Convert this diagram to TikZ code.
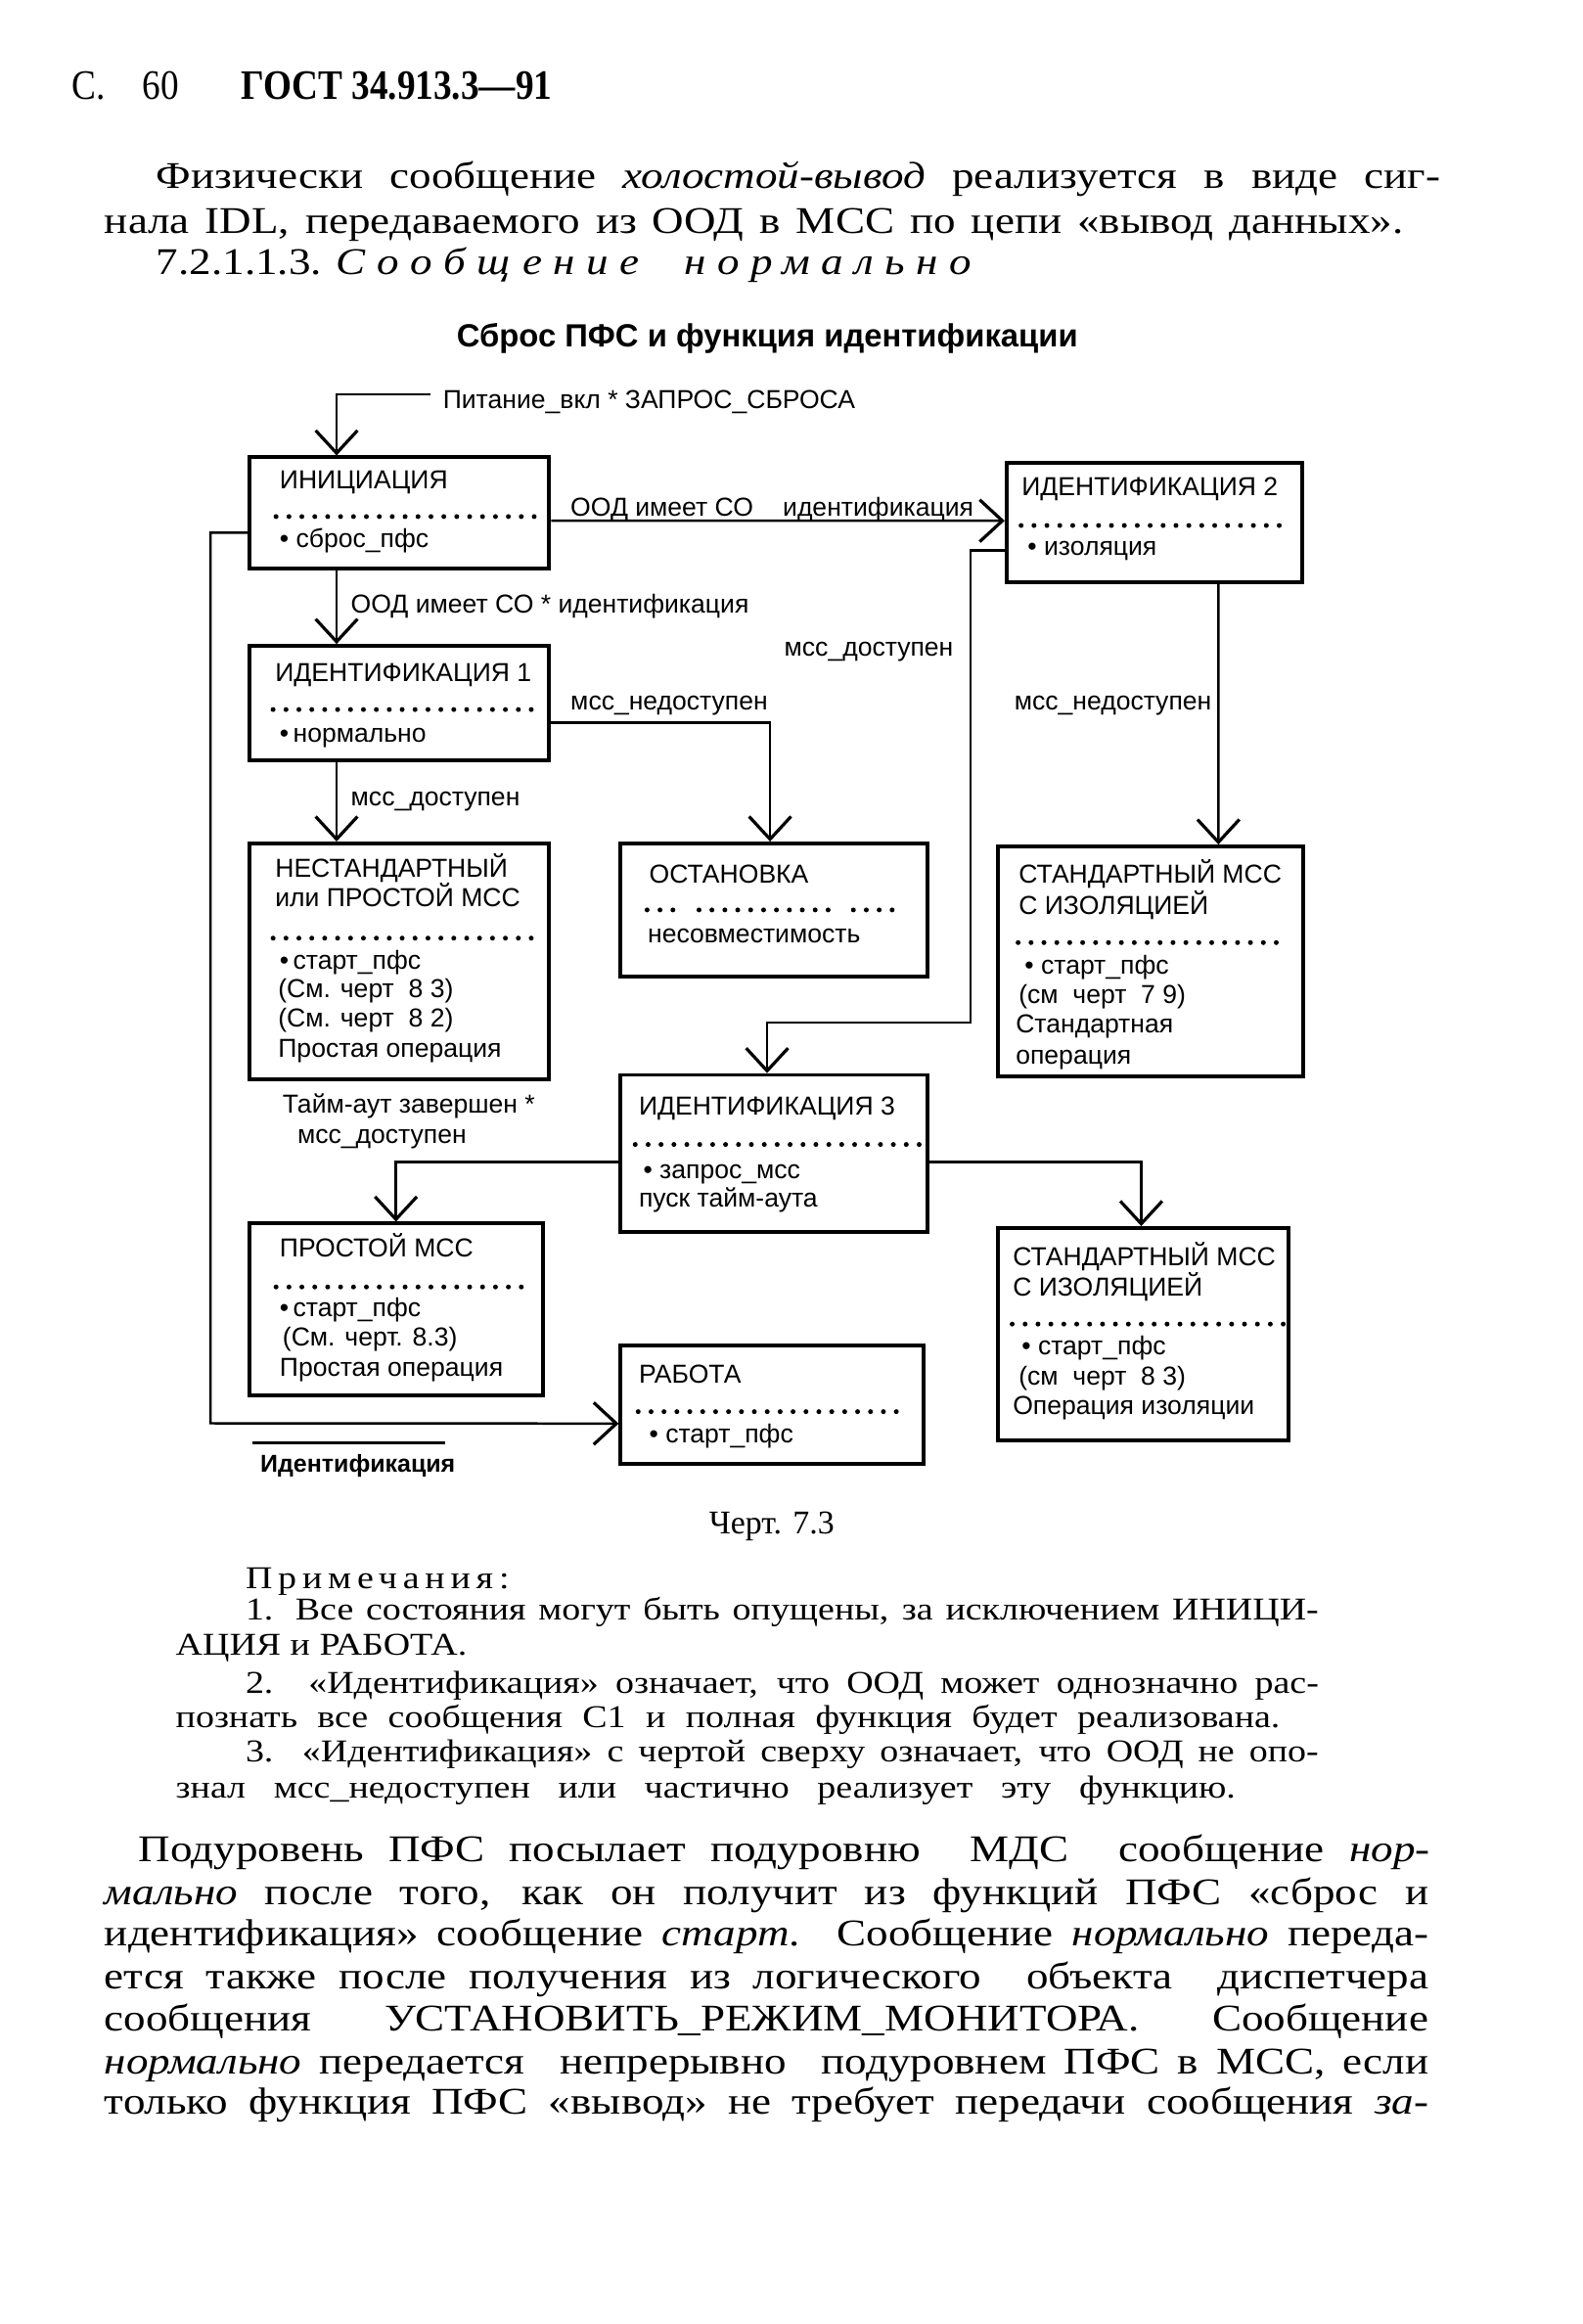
\documentclass[tikz,border=0pt]{standalone}
\usepackage{fontspec}
\setmainfont{Liberation Serif}[FakeStretch=1.17]
\setsansfont{Liberation Sans}
\newfontfamily\headfont{Liberation Serif}[FakeStretch=0.87]
\newfontfamily\plainserif{Liberation Serif}
\usetikzlibrary{arrows.meta,calc,fit}

% one justified line of the page text, width in picture units
\newcommand{\jline}[2]{\makebox[\dimexpr0.4255pt*#1\relax][s]{#2}}

\tikzset{
  statebox/.style={draw,line width=1.1pt,inner sep=0pt},
  boxtext/.style={font=\sffamily\fontsize{7.45}{8.5}\selectfont,anchor=base west,inner sep=0pt},
  conn/.style={line width=0.7pt},
  arr/.style={conn,-{Straight Barb[length=6.5pt,width=12pt,line width=0.9pt]}},
  dotrow/.style={line width=1.4pt,line cap=round,dash pattern=on 0pt off 3.7pt},
  bodyline/.style={font=\fontsize{10.8}{12}\selectfont,anchor=base west,inner sep=0pt},
  noteline/.style={font=\fontsize{9.1}{10}\selectfont,anchor=base west,inner sep=0pt},
}

\begin{document}
\begin{tikzpicture}[x=0.42pt,y=-0.42pt]
        \path[fill=white] (0,0) rectangle (1080,1586);
        \useasboundingbox (0,0) rectangle (1080,1586);
        \begin{scope}[scale=1.013]
        %% page head and text above the chart
        \node[anchor=base west,inner sep=0pt,font=\headfont\fontsize{12}{13}\selectfont] (page) at (48,67) {\jline{72}{С. 60}};
        \node[anchor=base west,inner sep=0pt,font=\headfont\bfseries\fontsize{12}{13}\selectfont] (gost) at (162,67) {ГОСТ 34.913.3—91};
        \node[bodyline] (p1a) at (105,127) {\jline{865}{Физически сообщение \textit{холостой-вывод} реализуется в виде сиг-}};
        \node[bodyline] (p1b) at (70,157) {\jline{875}{нала IDL, передаваемого из ООД в МСС по цепи «вывод данных».}};
        \node[bodyline] (sect) at (105,185) {7.2.1.1.3. {\itshape\addfontfeature{LetterSpace=30}Сообщение\ \ нормально}};
        \node[inner sep=0pt,font=\sffamily\bfseries\fontsize{9.2}{10}\selectfont] (title) at (517,228) {Сброс ПФС и функция идентификации};
        %% state boxes
        \node[statebox,fit={(168,308) (370,383)}] (init) {};
        \node[statebox,fit={(168,435) (370,512)}] (ident1) {};
        \node[statebox,fit={(168,568) (370,727)}] (nonstd) {};
        \node[statebox,fit={(418,568) (625,658)}] (halt) {};
        \node[statebox,fit={(678,312) (877,392)}] (ident2) {};
        \node[statebox,fit={(672,570) (878,725)}] (stdA) {};
        \node[statebox,fit={(418,724) (625,830)}] (ident3) {};
        \node[statebox,fit={(168,824) (366,940)}] (simple) {};
        \node[statebox,fit={(672,827) (868,970)}] (stdB) {};
        \node[statebox,fit={(418,906) (622,986)}] (work) {};
        %% dotted rules inside the boxes
        \draw[dotrow] (186,348) -- (362,348);
        \draw[dotrow] (184,478) -- (360,478);
        \draw[dotrow] (184,632) -- (362,632);
        \draw[dotrow] (436,613) -- (462,613);
        \draw[dotrow] (471,613) -- (565,613);
        \draw[dotrow] (575,613) -- (606,613);
        \draw[dotrow] (688,354) -- (862,354);
        \draw[dotrow] (686,635) -- (860,635);
        \draw[dotrow] (428,771) -- (620,771);
        \draw[dotrow] (186,867) -- (352,867);
        \draw[dotrow] (682,892) -- (866,892);
        \draw[dotrow] (430,951) -- (606,951);
        %% box texts
        \node[boxtext] (initT) at (188,329) {ИНИЦИАЦИЯ};
        \node[boxtext] (initV) at (188,369) {\textbullet\ сброс\_пфс};
        \node[boxtext] (ident1T) at (185,459) {ИДЕНТИФИКАЦИЯ 1};
        \node[boxtext] (ident1V) at (188,500) {\textbullet\,нормально};
        \node[boxtext] (nonstdT) at (185,591) {НЕСТАНДАРТНЫЙ};
        \node[boxtext] (nonstdU) at (185,611) {или ПРОСТОЙ МСС};
        \node[boxtext] (nonstdV) at (188,653) {\textbullet\,старт\_пфс};
        \node[boxtext] (nonstdW) at (187,672) {(См. черт\ \ 8 3)};
        \node[boxtext] (nonstdX) at (187,692) {(См. черт\ \ 8 2)};
        \node[boxtext] (nonstdY) at (187,712) {Простая операция};
        \node[boxtext] (haltT) at (437,595) {ОСТАНОВКА};
        \node[boxtext] (haltV) at (436,635) {несовместимость};
        \node[boxtext] (ident2T) at (688,334) {ИДЕНТИФИКАЦИЯ 2};
        \node[boxtext] (ident2V) at (692,374) {\textbullet\ изоляция};
        \node[boxtext] (stdAT) at (686,595) {СТАНДАРТНЫЙ МСС};
        \node[boxtext] (stdAU) at (686,616) {С ИЗОЛЯЦИЕЙ};
        \node[boxtext] (stdAV) at (690,656) {\textbullet\ старт\_пфс};
        \node[boxtext] (stdAW) at (686,676) {(см\ \ черт\ \ 7 9)};
        \node[boxtext] (stdAX) at (684,696) {Стандартная};
        \node[boxtext] (stdAY) at (684,717) {операция};
        \node[boxtext] (ident3T) at (430,751) {ИДЕНТИФИКАЦИЯ 3};
        \node[boxtext] (ident3V) at (433,794) {\textbullet\ запрос\_мсс};
        \node[boxtext] (ident3W) at (430,813) {пуск тайм-аута};
        \node[boxtext] (simpleT) at (188,847) {ПРОСТОЙ МСС};
        \node[boxtext] (simpleV) at (188,887) {\textbullet\,старт\_пфс};
        \node[boxtext] (simpleW) at (190,907) {(См. черт. 8.3)};
        \node[boxtext] (simpleX) at (188,927) {Простая операция};
        \node[boxtext] (stdBT) at (682,853) {СТАНДАРТНЫЙ МСС};
        \node[boxtext] (stdBU) at (682,873) {С ИЗОЛЯЦИЕЙ};
        \node[boxtext] (stdBV) at (688,913) {\textbullet\ старт\_пфс};
        \node[boxtext] (stdBW) at (686,933) {(см\ \ черт\ \ 8 3)};
        \node[boxtext] (stdBX) at (682,953) {Операция изоляции};
        \node[boxtext] (workT) at (430,932) {РАБОТА};
        \node[boxtext] (workV) at (437,972) {\textbullet\ старт\_пфс};
        %% transition labels
        \node[boxtext] (power) at (298,275) {Питание\_вкл * ЗАПРОС\_СБРОСА};
        \node[boxtext] (lblA) at (384,348) {ООД имеет СО};
        \node[boxtext] (lblB) at (527,348) {идентификация};
        \node[boxtext] (lblC) at (236,413) {ООД имеет СО * идентификация};
        \node[boxtext] (lblD) at (384,478) {мсс\_недоступен};
        \node[boxtext] (lblE) at (236,543) {мсс\_доступен};
        \node[boxtext] (lblF) at (528,442) {мсс\_доступен};
        \node[boxtext] (lblG) at (683,478) {мсс\_недоступен};
        \node[boxtext] (lblH) at (190,750) {Тайм-аут завершен *};
        \node[boxtext] (lblI) at (200,770) {мсс\_доступен};
        \node[boxtext,font=\sffamily\bfseries\fontsize{7}{8}\selectfont] (notid) at (175,992) {Идентификация};
        \draw[conn,line width=0.9pt] (170,972) -- (300,972);
        %% transitions
        \draw[arr] ($(power.west)+(-8,-5)$) -| ($(init.north west)+(60,0)$);
        \draw[arr] ($(init.north east)+(0,44)$) -- ($(ident2.north west)+(0,40)$);
        \draw[arr] ($(init.south west)+(60,0)$) -- ($(ident1.north west)+(60,0)$);
        \draw[arr] ($(ident1.north east)+(0,53)$) -| ($(halt.north west)+(102,0)$);
        \draw[arr] ($(ident1.south west)+(60,0)$) -- ($(nonstd.north west)+(60,0)$);
        \draw[arr] ($(ident2.south west)+(144,0)$) -- ($(stdA.north west)+(150,0)$);
        \draw[arr] ($(ident2.north west)+(0,60)$) -| ++(-23,318) -| ($(ident3.north west)+(100,0)$);
        \draw[arr] ($(ident3.north west)+(0,60)$) -| ($(simple.north west)+(100,0)$);
        \draw[arr] ($(ident3.north east)+(0,60)$) -| ($(stdB.north west)+(98,0)$);
        \draw[arr] ($(init.north west)+(0,52)$) -| ++(-25,600) -- ($(work.north west)+(0,54)$);
        %% caption and notes
        \node[inner sep=0pt,font=\plainserif\fontsize{9.5}{11}\selectfont] (caption) at (520,1028) {Черт. 7.3};
        \node[noteline] (nhead) at (165,1070) {\addfontfeature{LetterSpace=18}Примечания:};
        \node[noteline] (n1a) at (165,1091) {\jline{723}{1. Все состояния могут быть опущены, за исключением ИНИЦИ-}};
        \node[noteline] (n1b) at (118,1115) {АЦИЯ и РАБОТА.};
        \node[noteline] (n2a) at (165,1141) {\jline{723}{2. «Идентификация» означает, что ООД может однозначно рас-}};
        \node[noteline] (n2b) at (118,1164) {\jline{744}{познать все сообщения С1 и полная функция будет реализована.}};
        \node[noteline] (n3a) at (165,1187) {\jline{723}{3. «Идентификация» с чертой сверху означает, что ООД не опо-}};
        \node[noteline] (n3b) at (118,1211) {\jline{714}{знал мсс\_недоступен или частично реализует эту функцию.}};
        %% text below the chart
        \node[bodyline] (b1) at (93,1254) {\jline{870}{Подуровень ПФС посылает подуровню\ \ МДС\ \ сообщение \textit{нор-}}};
        \node[bodyline] (b2) at (70,1283) {\jline{892}{\textit{мально} после того, как он получит из функций ПФС «сброс и}};
        \node[bodyline] (b3) at (70,1311) {\jline{892}{идентификация» сообщение \textit{старт}.\ \ Сообщение \textit{нормально} переда-}};
        \node[bodyline] (b4) at (70,1340) {\jline{892}{ется также после получения из логического\ \ объекта\ \ диспетчера}};
        \node[bodyline] (b5) at (70,1368) {\jline{892}{сообщения\ \ \ УСТАНОВИТЬ\_РЕЖИМ\_МОНИТОРА.\ \ \ Сообщение}};
        \node[bodyline] (b6) at (70,1397) {\jline{892}{\textit{нормально} передается\ \ непрерывно\ \ подуровнем ПФС в МСС, если}};
        \node[bodyline] (b7) at (70,1424) {\jline{892}{только функция ПФС «вывод» не требует передачи сообщения \textit{за-}}};
        \end{scope}
    \end{tikzpicture}
\end{document}
